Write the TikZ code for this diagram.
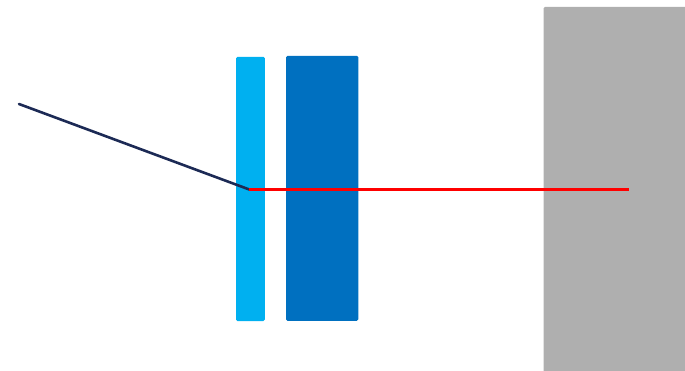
\documentclass[tikz,border=0pt]{standalone}
\definecolor{lightb}{HTML}{00B0F0}
\definecolor{darkb}{HTML}{0070C0}
\definecolor{wallgray}{HTML}{AFAFAF}
\definecolor{navy}{HTML}{1C2A55}
\definecolor{beam}{HTML}{FF0000}
\tikzset{
  plate/.style={rounded corners=1.5pt, draw=none},
}
\begin{document}
\begin{tikzpicture}[x=1pt,y=-1pt]
\useasboundingbox (0,0) rectangle (685,370);
\fill[wallgray, rounded corners=1.5pt] (543.5,6.8) rectangle (690,375);
\fill[lightb, plate] (236,56.8) rectangle (264.8,321);
\fill[darkb, plate] (286,55.8) rectangle (358.3,320.8);
\coordinate (src) at (19,104);
\coordinate (hit) at (249.3,189.5);
\coordinate (dst) at (628.5,189.5);
\draw[navy, line width=2.6pt, line cap=round] (src) -- (hit);
\draw[beam, line width=3pt] (hit) -- (dst);
\end{tikzpicture}
\end{document}
